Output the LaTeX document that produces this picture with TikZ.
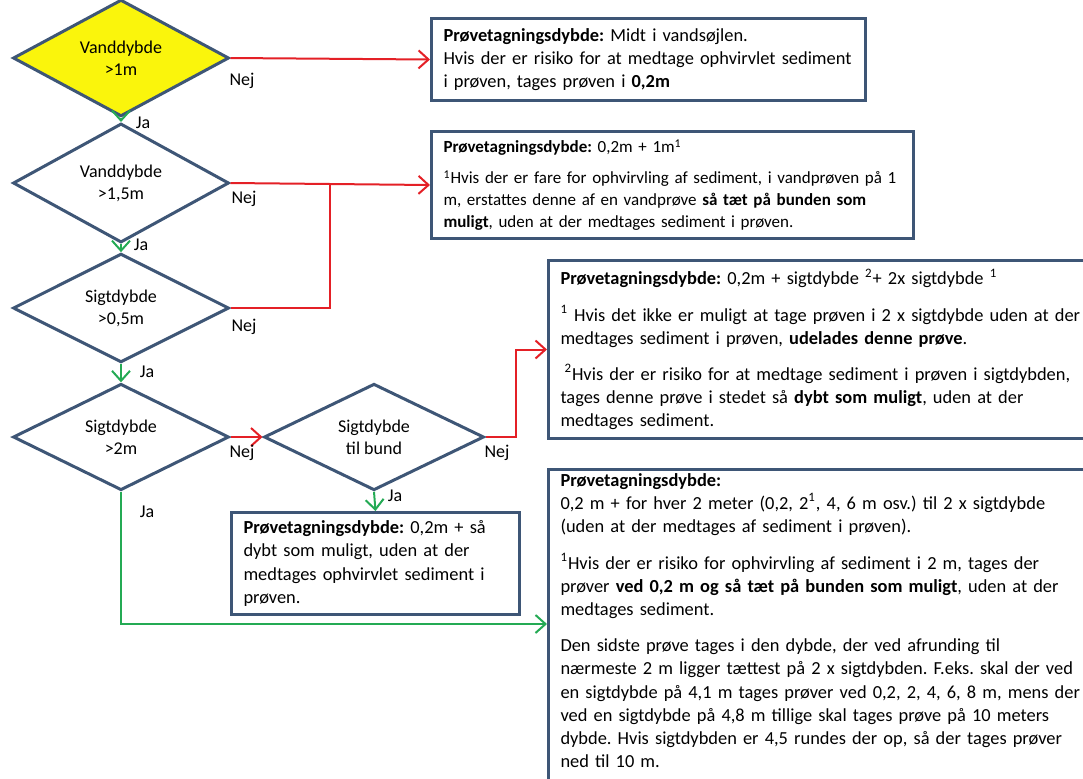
\documentclass[tikz,border=0pt]{standalone}
\usepackage{fontspec}
\setmainfont{Carlito}
\usetikzlibrary{shapes.geometric,arrows.meta,calc}

\definecolor{rimblue}{RGB}{62,86,118}
\definecolor{nejred}{RGB}{228,32,38}
\definecolor{jagreen}{RGB}{36,170,84}
\definecolor{startyellow}{RGB}{250,245,12}

\begin{document}
\frenchspacing
\begin{tikzpicture}
		[x=0.5pt,y=-0.5pt,
		decision/.style={shape=diamond,draw=rimblue,line width=1.5pt,inner sep=0pt,
			minimum width=108pt,minimum height=48pt,align=center,
			font=\fontsize{9}{11}\selectfont},
		infobox/.style={shape=rectangle,draw=rimblue,line width=1.5pt,anchor=north west,
			align=left,inner xsep=6pt,inner ysep=2pt,font=\fontsize{9.2}{11.6}\selectfont},
		nej/.style={draw=nejred,line width=1pt,-{Straight Barb[length=5pt,width=9pt]}},
		ja/.style={draw=jagreen,line width=1pt,-{Straight Barb[length=5pt,width=9pt]}},
		lbl/.style={inner sep=0pt,font=\fontsize{9}{11}\selectfont}]
		\useasboundingbox (0,0) rectangle (1083,778);
		\clip (0,0) rectangle (1083,778);
		%% questions
		\node[decision,fill=startyellow] (d1) at (121,58) {Vanddybde\\>1m};
		\node[decision] (d2) at (121,183) {Vanddybde\\>1,5m};
		\node[decision] (d3) at (121,308) {Sigtdybde\\>0,5m};
		\node[decision] (d4) at (121,437) {Sigtdybde\\>2m};
		\node[decision,minimum width=110pt] (d5) at (374,437) {Sigtdybde\\til bund};
		%% answers
		\node[infobox,text width=205pt,minimum height=41pt] (box1) at (430,17)
		{\textbf{Prøvetagningsdybde:} Midt i vandsøjlen.\\
			Hvis der er risiko for at medtage ophvirvlet sediment\\
			i prøven, tages prøven i \textbf{0,2m}};
		\node[infobox,text width=229pt,minimum height=53.5pt,font=\fontsize{8.5}{10.9}\selectfont] (box2) at (430,130)
		{\textbf{Prøvetagningsdybde:} 0,2m + 1m\textsuperscript{1}\\[4.5pt]
			\mbox{\textsuperscript{1}Hvis der er fare for ophvirvling af sediment, i vandprøven på 1}\\
			m, erstattes denne af en vandprøve \textbf{så tæt på bunden som}\\
			\textbf{muligt}, uden at der medtages sediment i prøven.};
		\node[infobox,text width=290pt,minimum height=89pt] (box3) at (547,259)
		{\textbf{Prøvetagningsdybde:} 0,2m + sigtdybde \textsuperscript{2}+ 2x sigtdybde \textsuperscript{1}\\[6.5pt]
			\textsuperscript{1} Hvis det ikke er muligt at tage prøven i 2 x sigtdybde uden at der\\
			medtages sediment i prøven, \textbf{udelades denne prøve}.\\[6.5pt]
			\hspace*{2pt}\textsuperscript{2}Hvis der er risiko for at medtage sediment i prøven i sigtdybden,\\
			tages denne prøve i stedet så \textbf{dybt som muligt}, uden at der\\
			medtages sediment.};
		\node[infobox,text width=132pt,minimum height=51pt] (box4) at (230,511)
		{\textbf{Prøvetagningsdybde:} 0,2m + så\\
			dybt som muligt, uden at der\\
			medtages ophvirvlet sediment i\\
			prøven.};
		\node[infobox,text width=290pt] (box5) at (547,468)
		{\parbox[t][165pt][t]{290pt}{\raggedright
			\textbf{Prøvetagningsdybde:}\\
			0,2 m + for hver 2 meter (0,2, 2\textsuperscript{1}, 4, 6 m osv.) til 2 x sigtdybde\\
			(uden at der medtages af sediment i prøven).\\[6.5pt]
			\textsuperscript{1}Hvis der er risiko for ophvirvling af sediment i 2 m, tages der\\
			prøver \textbf{ved 0,2 m og så tæt på bunden som muligt}, uden at der\\
			medtages sediment.\\[6.5pt]
			Den sidste prøve tages i den dybde, der ved afrunding til\\
			nærmeste 2 m ligger tættest på 2 x sigtdybden. F.eks. skal der ved\\
			en sigtdybde på 4,1 m tages prøver ved 0,2, 2, 4, 6, 8 m, mens der\\
			ved en sigtdybde på 4,8 m tillige skal tages prøve på 10 meters\\
			dybde. Hvis sigtdybden er 4,5 rundes der op, så der tages prøver\\
			ned til 10 m.}};
		%% bends
		\coordinate (jn) at (330,183);
		\coordinate (up5) at (516,437);
		\coordinate (dn4) at (121,624);
		%% connectors
		\path
		\foreach \startNode/\endNode in {d1/d2,d2/d3,d3/d4,d5/box4}
		{
			(\startNode.south) edge[ja] (\endNode.north)
		};
		\draw[ja] (d4.south) -- (dn4) -- (dn4 -| box5.west);
		\draw[nej] (d1.east) -- (box1.west);
		\draw[nej] (d2.east) -- (box2.west);
		\draw[nej,-] (d3.east) -| (jn);
		\draw[nej] (d4.east) -- (d5.west);
		\draw[nej] (d5.east) -- (up5) |- (box3.west);
		%% labels
		\node[lbl] (n1) at (242,81) {Nej};
		\node[lbl] (n2) at (244,199) {Nej};
		\node[lbl] (n3) at (244,327) {Nej};
		\node[lbl] (n4) at (242,453) {Nej};
		\node[lbl] (n5) at (497,453) {Nej};
		\node[lbl] (j1) at (143,123) {Ja};
		\node[lbl] (j2) at (141,245) {Ja};
		\node[lbl] (j3) at (147,372) {Ja};
		\node[lbl] (j4) at (147,512) {Ja};
		\node[lbl] (j5) at (395,496) {Ja};
\end{tikzpicture}
\end{document}
